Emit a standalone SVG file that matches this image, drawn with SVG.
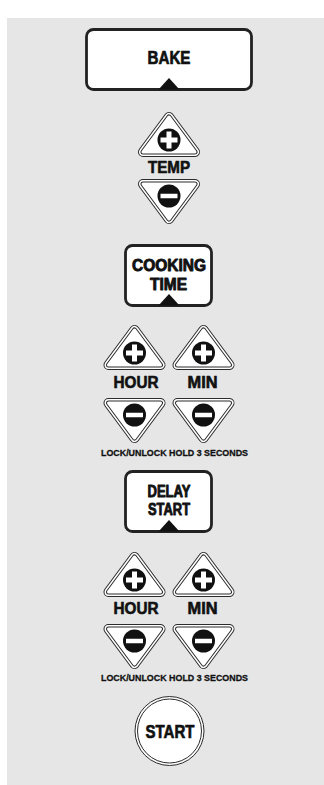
<svg xmlns="http://www.w3.org/2000/svg" xmlns:xlink="http://www.w3.org/1999/xlink" width="324" height="785" viewBox="0 0 324 785">
<style>
.panel{fill:#e6e6e6}
.box{fill:#fff;stroke:#222;stroke-width:2.8}
.mark{fill:#111}
.t1{fill:#2b2b2b;stroke:#2b2b2b;stroke-width:10;stroke-linejoin:round}
.t2{fill:#fff;stroke:#fff;stroke-width:8;stroke-linejoin:round}
.t3{fill:#2b2b2b;stroke:#2b2b2b;stroke-width:5;stroke-linejoin:round}
.t4{fill:#fff;stroke:#fff;stroke-width:3;stroke-linejoin:round}
.dot{fill:#111}
.bar{fill:#fff}
.lbl{font-family:"Liberation Sans Narrow","Liberation Sans",Arial,sans-serif;font-weight:bold;fill:#111;stroke:#111;stroke-linejoin:round;text-anchor:middle}
.big{font-size:18.2px;stroke-width:0.7}
.two{font-size:16px;stroke-width:0.9}
.mid{font-size:16px;stroke-width:0.6}
.small{font-size:9.6px;stroke-width:0.3}
.ring{fill:#fff;stroke:#2b2b2b;stroke-width:1}
.ring2{fill:none;stroke:#2b2b2b;stroke-width:1}
</style>
<defs>
<g id="tri">
<path class="t1" d="M0,-23 L26,12 L-26,12 Z"/>
<path class="t2" d="M0,-23 L26,12 L-26,12 Z"/>
<path class="t3" d="M0,-23 L26,12 L-26,12 Z"/>
<path class="t4" d="M0,-23 L26,12 L-26,12 Z"/>
</g>
<g id="plusBtn">
<use xlink:href="#tri"/>
<circle class="dot" r="11.5"/>
<rect class="bar" x="-8.5" y="-2.5" width="17" height="5"/>
<rect class="bar" x="-2.5" y="-8.5" width="5" height="17"/>
</g>
<g id="minusBtn">
<use xlink:href="#tri" transform="scale(1,-1)"/>
<circle class="dot" r="11.5"/>
<rect class="bar" x="-8.5" y="-2.25" width="17" height="4.5"/>
</g>
</defs>
<rect class="panel" x="7" y="18" width="317" height="767"/>
<g id="connectors"/>
<g id="bake">
<rect class="box" x="86.5" y="29.5" width="165" height="60" rx="7"/>
<text class="lbl big" x="169" y="64" textLength="43" lengthAdjust="spacingAndGlyphs">BAKE</text>
<path class="mark" d="M169,78 L179.5,89.5 L158.5,89.5 Z"/>
</g>
<g id="temp-plus"><use xlink:href="#plusBtn" x="169" y="140"/></g>
<g id="temp-label"><text class="lbl mid" x="169" y="172.5" textLength="42" lengthAdjust="spacingAndGlyphs">TEMP</text></g>
<g id="temp-minus"><use xlink:href="#minusBtn" x="169" y="196"/></g>
<g id="cooking-time">
<rect class="box" x="125.5" y="245.5" width="86" height="60" rx="7"/>
<text class="lbl two" x="169" y="270.5" textLength="74" lengthAdjust="spacingAndGlyphs">COOKING</text>
<text class="lbl two" x="168.5" y="289.5" textLength="37" lengthAdjust="spacingAndGlyphs">TIME</text>
<path class="mark" d="M169,294 L179.5,305.5 L158.5,305.5 Z"/>
</g>
<g id="cook-hour-plus"><use xlink:href="#plusBtn" x="134.5" y="353"/></g>
<g id="cook-min-plus"><use xlink:href="#plusBtn" x="203.5" y="353"/></g>
<g id="cook-hour-label"><text class="lbl mid" x="136" y="388" textLength="45" lengthAdjust="spacingAndGlyphs">HOUR</text></g>
<g id="cook-min-label"><text class="lbl mid" x="202.5" y="388" textLength="30" lengthAdjust="spacingAndGlyphs">MIN</text></g>
<g id="cook-hour-minus"><use xlink:href="#minusBtn" x="134.5" y="415"/></g>
<g id="cook-min-minus"><use xlink:href="#minusBtn" x="203.5" y="415"/></g>
<g id="cook-lock-label"><text class="lbl small" x="174.5" y="456" textLength="147" lengthAdjust="spacingAndGlyphs">LOCK/UNLOCK HOLD 3 SECONDS</text></g>
<g id="delay-start">
<rect class="box" x="125.5" y="471.5" width="86" height="60" rx="7"/>
<text class="lbl two" x="169" y="496.5" textLength="43" lengthAdjust="spacingAndGlyphs">DELAY</text>
<text class="lbl two" x="169" y="515" textLength="42" lengthAdjust="spacingAndGlyphs">START</text>
<path class="mark" d="M169,520 L179.5,531.5 L158.5,531.5 Z"/>
</g>
<g id="delay-hour-plus"><use xlink:href="#plusBtn" x="134.5" y="580"/></g>
<g id="delay-min-plus"><use xlink:href="#plusBtn" x="203.5" y="580"/></g>
<g id="delay-hour-label"><text class="lbl mid" x="136" y="614" textLength="45" lengthAdjust="spacingAndGlyphs">HOUR</text></g>
<g id="delay-min-label"><text class="lbl mid" x="202.5" y="614" textLength="30" lengthAdjust="spacingAndGlyphs">MIN</text></g>
<g id="delay-hour-minus"><use xlink:href="#minusBtn" x="134.5" y="641"/></g>
<g id="delay-min-minus"><use xlink:href="#minusBtn" x="203.5" y="641"/></g>
<g id="delay-lock-label"><text class="lbl small" x="174.5" y="681" textLength="147" lengthAdjust="spacingAndGlyphs">LOCK/UNLOCK HOLD 3 SECONDS</text></g>
<g id="start">
<circle class="ring" cx="169.5" cy="731" r="34.5"/>
<circle class="ring2" cx="169.5" cy="731" r="32"/>
<text class="lbl big" x="170" y="738" textLength="49" lengthAdjust="spacingAndGlyphs">START</text>
</g>
</svg>
